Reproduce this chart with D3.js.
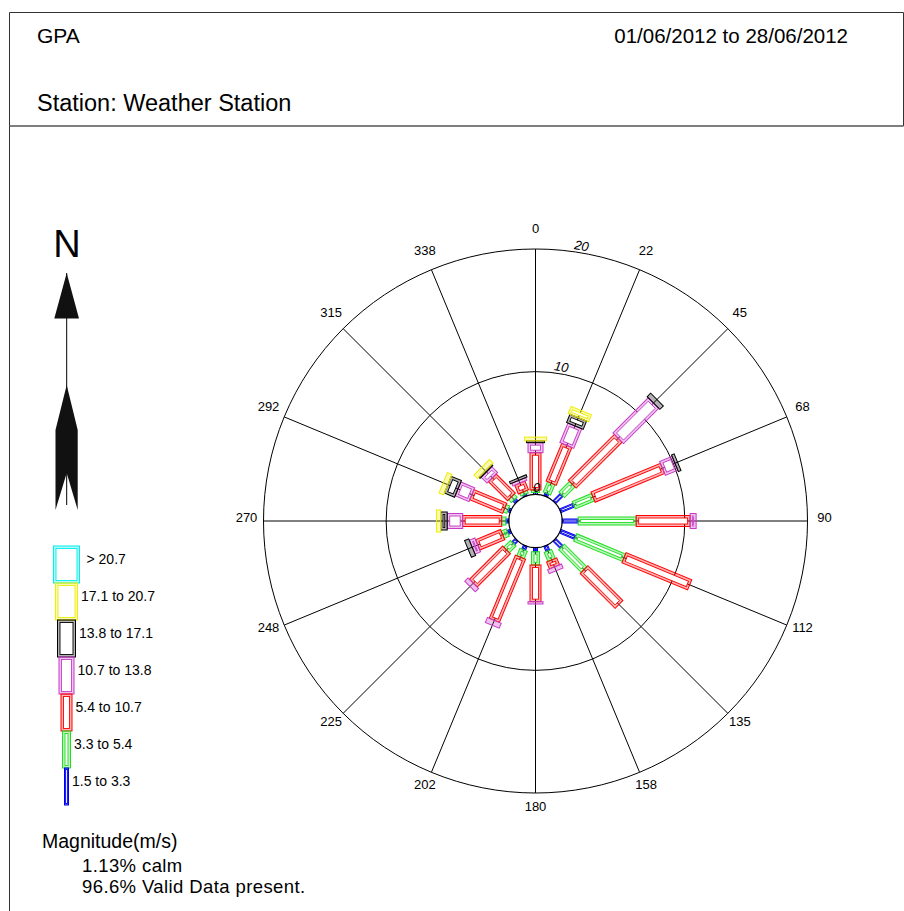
<!DOCTYPE html>
<html><head><meta charset="utf-8">
<script src="https://cdn.jsdelivr.net/npm/d3@7"></script>
<style>
body{margin:0;background:#fff;}
svg{display:block;font-family:Arial,"Liberation Sans",sans-serif;}
</style>
</head><body>
<svg id="c" width="904" height="911"></svg>
<script>
// ---------- DATA ----------
const directions = [0,22.5,45,67.5,90,112.5,135,157.5,180,202.5,225,247.5,270,292.5,315,337.5];
const dirLabels = ["0","22","45","68","90","112","135","158","180","202","225","248","270","292","315","338"];
const classKeys = ["c1","c2","c3","c4","c5","c6","c7"];
const classLabels = ["1.5 to 3.3","3.3 to 5.4","5.4 to 10.7","10.7 to 13.8","13.8 to 17.1","17.1 to 20.7","> 20.7"];
const classColors = ["#0000ee","#22dd22","#ff0000","#c63cc6","#000000","#eeee00","#00eeee"];
// percent frequency per direction (same order as directions)
const c1 = [0.15,0.25,0.84,1.20,1.30,1.33,0.82,0.46,0.33,0.35,0.39,0.27,0.23,0.23,0.27,0.15]; // 1.5-3.3
const c2 = [0.20,0.91,1.22,1.70,4.73,4.30,2.60,0.80,1.08,0.67,0.77,0.45,0.35,0.31,0.33,0.24]; // 3.3-5.4
const c3 = [3.04,3.33,5.30,6.13,4.40,5.80,4.03,0.61,2.99,5.57,3.83,2.20,3.18,2.90,2.20,0.77]; // 5.4-10.7
const c4 = [0.82,1.72,4.07,1.10,0.49,0.00,0.00,0.35,0.19,0.44,0.38,0.49,1.26,1.22,0.68,0.24]; // 10.7-13.8
const c5 = [0.15,0.73,0.40,0.23,0.00,0.00,0.00,0.00,0.00,0.00,0.00,0.37,0.54,0.90,0.13,0.20]; // 13.8-17.1
const c6 = [0.30,0.63,0.00,0.00,0.00,0.00,0.00,0.00,0.00,0.00,0.00,0.00,0.33,0.41,0.41,0.00]; // 17.1-20.7
const c7 = [0,0,0,0,0,0,0,0,0,0,0,0,0,0,0,0]; // >20.7
const ringTicks = [0,10,20];
const titleLeft = "GPA";
const dateRange = "01/06/2012 to 28/06/2012";
const stationText = "Station: Weather Station";
const unitText = "Magnitude(m/s)";
const calmText = "1.13% calm";
const validText = "96.6% Valid Data present.";

// ---------- LAYOUT ----------
const classWidths = [4,8,11,15,18,22,26];
const cx = 535.5, cy = 521, rHub = 26.7, rOuter = 272;

const svg = d3.select("#c");
const series = [c1,c2,c3,c4,c5,c6,c7];
const table = directions.map((d,i)=>{
  const o = {dir:d};
  classKeys.forEach((k,j)=>o[k]=series[j][i]);
  return o;
});
const stacked = d3.stack().keys(classKeys)(table);
const r = d3.scaleLinear().domain([0,20]).range([rHub,rOuter]);

// frame
const frame = svg.append("g").attr("stroke","#333").attr("stroke-width",1).attr("fill","none");
frame.append("line").attr("x1",9.5).attr("y1",12.5).attr("x2",903.5).attr("y2",12.5);
frame.append("line").attr("x1",9.5).attr("y1",12.5).attr("x2",9.5).attr("y2",911);
frame.append("line").attr("x1",903.5).attr("y1",12.5).attr("x2",903.5).attr("y2",126);
frame.append("line").attr("x1",9.5).attr("y1",126).attr("x2",903.5).attr("y2",126).attr("stroke","#555").attr("stroke-width",1.5);

svg.append("text").attr("x",37).attr("y",43).attr("font-size",21).text(titleLeft);
svg.append("text").attr("x",848).attr("y",43).attr("font-size",20.5).attr("text-anchor","end").text(dateRange);
svg.append("text").attr("x",37).attr("y",111).attr("font-size",23.5).text(stationText);

// rose
const rose = svg.append("g").attr("transform",`translate(${cx},${cy})`);
rose.selectAll("circle.ring").data(ringTicks.slice(1)).join("circle")
  .attr("r",d=>r(d)).attr("fill","none").attr("stroke","#000").attr("stroke-width",1);
rose.selectAll("line.spoke").data(directions).join("line")
  .attr("x1",d=>rHub*Math.sin(d*Math.PI/180)).attr("y1",d=>-rHub*Math.cos(d*Math.PI/180))
  .attr("x2",d=>rOuter*Math.sin(d*Math.PI/180)).attr("y2",d=>-rOuter*Math.cos(d*Math.PI/180))
  .attr("stroke","#000").attr("stroke-width",1);

function dblRect(g, x, y, w, h, color){
  if(h<=0) return;
  const ins = w>=8 ? 2.5 : 1.1;
  g.append("rect").attr("x",x).attr("y",y).attr("width",w).attr("height",h)
    .attr("fill",color).attr("fill-opacity",0.3).attr("stroke",color).attr("stroke-width",1);
  if(h>2*ins+0.5){
    g.append("rect").attr("x",x+ins).attr("y",y+ins).attr("width",w-2*ins).attr("height",h-2*ins)
      .attr("fill","#fff").attr("stroke",color).attr("stroke-width",0.9);
  }
}

directions.forEach((d,i)=>{
  const g = rose.append("g").attr("transform",`rotate(${d})`);
  stacked.forEach((s,j)=>{
    const v0 = s[i][0], v1 = s[i][1];
    if(v1-v0<=0) return;
    const w = classWidths[j];
    dblRect(g, -w/2, -r(v1), w, r(v1)-r(v0), classColors[j]);
  });
});
rose.append("circle").attr("r",rHub).attr("fill","none").attr("stroke","#000").attr("stroke-width",1.2);

// direction labels
rose.selectAll("text.dir").data(directions).join("text")
  .attr("x",(d)=>289*Math.sin(d*Math.PI/180))
  .attr("y",(d)=>-289*Math.cos(d*Math.PI/180)-4)
  .attr("text-anchor","middle").attr("dominant-baseline","central")
  .attr("font-size",13).text((d,i)=>dirLabels[i]);

// ring labels
ringTicks.forEach(t=>{
  const a = t===0 ? 2 : 9.5;
  const rr = r(t)+7;
  const x = rr*Math.sin(a*Math.PI/180), y = -rr*Math.cos(a*Math.PI/180);
  rose.append("text").attr("transform",`translate(${x},${y}) rotate(${t===0?0:a})`)
    .attr("text-anchor","middle").attr("dominant-baseline","central")
    .attr("font-size",13).attr("font-style","italic").text(t);
});

// north arrow
const na = svg.append("g");
na.append("text").attr("x",67).attr("y",257).attr("font-size",38).attr("text-anchor","middle").text("N");
na.append("line").attr("x1",66.7).attr("y1",273).attr("x2",66.7).attr("y2",505).attr("stroke","#000").attr("stroke-width",1);
na.append("path").attr("d","M66.7,273 L79,318.5 L54.3,318.5 Z").attr("fill","#111");
na.append("path").attr("d","M66.7,385 L77.7,430 L77.7,510 L66.7,473 L55.5,510 L55.5,430 Z").attr("fill","#111");

// legend
const leg = svg.append("g");
const legCx = 66.5, legTop = 546, legH = 37;
for(let k=6;k>=0;k--){
  const y = legTop + (6-k)*legH;
  const w = classWidths[k];
  dblRect(leg, legCx-w/2, y, w, legH, classColors[k]);
  leg.append("text").attr("x",legCx+w/2+(k===6?7:3.5)).attr("y",y+13)
    .attr("dominant-baseline","central").attr("font-size",14).text(classLabels[k]);
}

svg.append("text").attr("x",42).attr("y",848).attr("font-size",19.5).text(unitText);
svg.append("text").attr("x",82).attr("y",872).attr("font-size",18.5).attr("letter-spacing",0.4).text(calmText);
svg.append("text").attr("x",82).attr("y",893).attr("font-size",18.5).attr("letter-spacing",0.4).text(validText);
</script>
</body></html>
